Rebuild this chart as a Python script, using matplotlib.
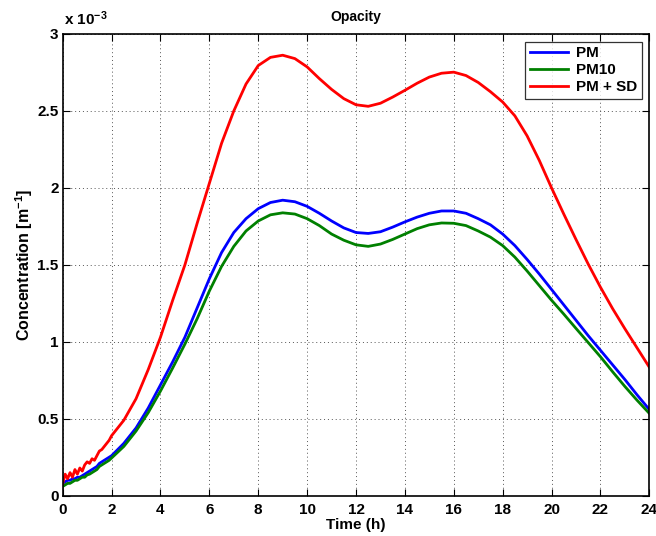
import numpy as np
import matplotlib
matplotlib.use("Agg")
import matplotlib.pyplot as plt
from matplotlib.ticker import FuncFormatter, MultipleLocator

plt.rcParams["font.family"] = ["Liberation Sans", "DejaVu Sans"]
plt.rcParams["font.weight"] = "bold"
plt.rcParams["mathtext.fontset"] = "custom"
plt.rcParams["mathtext.bf"] = "Liberation Sans:bold"
plt.rcParams["mathtext.rm"] = "Liberation Sans:bold"
plt.rcParams["mathtext.default"] = "bf"

# --- data (concentration in units of 1e-3 m^-1) ---
time_h = np.concatenate([np.arange(0, 2.0, 0.1), np.arange(2.0, 24.01, 0.5)])

pm_early = [0.08, 0.09, 0.10, 0.10, 0.11, 0.11, 0.12, 0.12, 0.13, 0.14,
            0.15, 0.16, 0.17, 0.18, 0.19, 0.21, 0.22, 0.23, 0.24, 0.25]
pm_main = [0.26, 0.34, 0.44, 0.57, 0.72, 0.87, 1.03, 1.22, 1.41, 1.58,
           1.71, 1.80, 1.865, 1.905, 1.92, 1.91, 1.88, 1.835, 1.785, 1.74,
           1.71, 1.704, 1.715, 1.745, 1.779, 1.81, 1.835, 1.85, 1.85, 1.835,
           1.80, 1.76, 1.70, 1.625, 1.535, 1.44, 1.34, 1.24, 1.14, 1.04,
           0.945, 0.85, 0.755, 0.655, 0.56]

pm10_early = [0.06, 0.07, 0.08, 0.08, 0.09, 0.10, 0.10, 0.11, 0.12, 0.12,
              0.135, 0.14, 0.15, 0.16, 0.17, 0.19, 0.20, 0.21, 0.22, 0.23]
pm10_main = [0.245, 0.32, 0.42, 0.54, 0.68, 0.83, 0.985, 1.15, 1.33, 1.49,
             1.62, 1.72, 1.785, 1.825, 1.838, 1.83, 1.80, 1.755, 1.70, 1.66,
             1.63, 1.62, 1.635, 1.665, 1.70, 1.735, 1.76, 1.772, 1.77, 1.755,
             1.72, 1.68, 1.625, 1.55, 1.46, 1.365, 1.27, 1.18, 1.087, 0.995,
             0.903, 0.805, 0.71, 0.62, 0.535]

pmsd_early = [0.08, 0.14, 0.11, 0.15, 0.12, 0.17, 0.14, 0.18, 0.16, 0.20,
              0.22, 0.21, 0.24, 0.23, 0.26, 0.29, 0.30, 0.32, 0.34, 0.36]
pmsd_main = [0.39, 0.49, 0.63, 0.82, 1.03, 1.27, 1.50, 1.77, 2.03, 2.29,
             2.50, 2.675, 2.795, 2.848, 2.862, 2.84, 2.786, 2.71, 2.64, 2.58,
             2.54, 2.53, 2.55, 2.59, 2.634, 2.68, 2.72, 2.745, 2.752, 2.73,
             2.685, 2.625, 2.558, 2.468, 2.338, 2.178, 2.00, 1.83, 1.665, 1.505,
             1.355, 1.215, 1.085, 0.96, 0.835]

series = [
    ("PM", pm_early + pm_main, (0, 0, 1)),
    ("PM10", pm10_early + pm10_main, (0, 0.5, 0)),
    ("PM + SD", pmsd_early + pmsd_main, (1, 0, 0)),
]

fig = plt.figure(figsize=(6.56, 5.36), dpi=100)
ax = fig.add_axes([0.0956, 0.0752, 0.8942, 0.8614])

for name, vals, col in series:
    ax.plot(time_h, np.array(vals) * 1e-3, color=col, lw=2.0, label=name)

ax.set_xlim(0, 24)
ax.set_ylim(0, 3e-3)
ax.xaxis.set_major_locator(MultipleLocator(2))
ax.yaxis.set_major_locator(MultipleLocator(0.5e-3))
ax.yaxis.set_major_formatter(FuncFormatter(lambda v, p: f"{v * 1e3:g}"))
ax.tick_params(direction="in", length=5, width=0.8, top=True, right=True,
               labelsize=11)
ax.tick_params(axis="y", pad=3)
ax.tick_params(axis="x", pad=5)
for lab in ax.get_xticklabels() + ax.get_yticklabels():
    lab.set_fontweight("bold")
for sp in ax.spines.values():
    sp.set_linewidth(1.2)

ax.grid(True, linestyle=(0, (1, 3)), color="#555555", linewidth=0.7)

ax.set_title("Opacity", fontsize=10, fontweight="bold", pad=9)
ax.set_xlabel("Time (h)", fontsize=11, fontweight="bold", labelpad=1)
ax.set_ylabel(r"Concentration [m$^{-1}$]", fontsize=11.5, fontweight="bold", labelpad=2)
ax.text(0.003, 1.012, r"x 10$^{-3}$", transform=ax.transAxes, ha="left", va="bottom",
        fontsize=11, fontweight="bold")

leg = ax.legend(loc="upper right", fontsize=11, frameon=True, fancybox=False,
                edgecolor="black", handlelength=2.5, borderpad=0.3,
                labelspacing=0.2, handletextpad=0.5, borderaxespad=0.5)
leg.get_frame().set_linewidth(0.9)
for t in leg.get_texts():
    t.set_fontweight("bold")

fig.savefig("out.png", dpi=100, facecolor="white")
